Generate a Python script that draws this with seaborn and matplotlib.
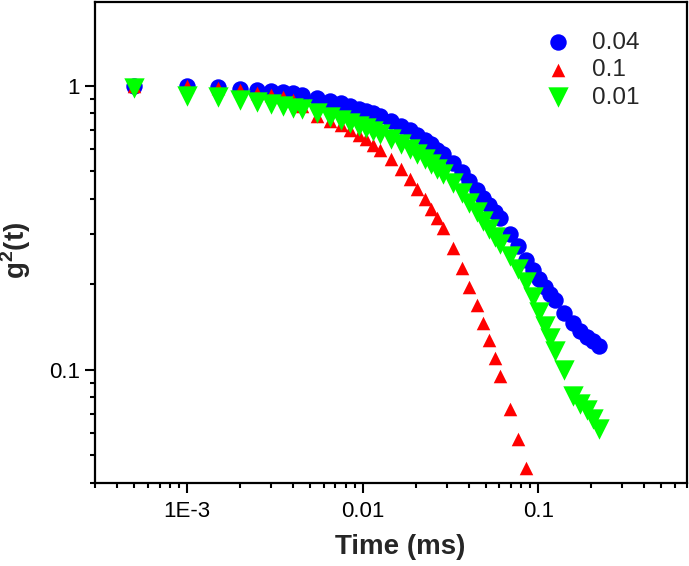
import matplotlib
matplotlib.use("Agg")
import matplotlib.pyplot as plt
import seaborn as sns
import pandas as pd
from matplotlib.ticker import FixedLocator, FixedFormatter, LogLocator, NullFormatter

# correlator lag times (ms), shared by all three curves
time_ms = [0.0005, 0.001, 0.0015, 0.002, 0.0025, 0.003, 0.0035, 0.004, 0.0045,
           0.0055, 0.0065, 0.0075, 0.0085, 0.0095, 0.0105, 0.0115, 0.0125,
           0.0145, 0.0165, 0.0185, 0.0205, 0.0225, 0.0245, 0.0265, 0.0285,
           0.0325, 0.0365, 0.0405, 0.0445, 0.0485, 0.0525, 0.0565, 0.0605,
           0.0685, 0.0765, 0.0845, 0.0925, 0.1005, 0.1085, 0.1165, 0.1245,
           0.1405, 0.1565, 0.1725, 0.1885, 0.2045, 0.2205]

g2_004 = [1.000, 1.000, 0.990, 0.974, 0.966, 0.958, 0.948, 0.940, 0.927,
          0.903, 0.880, 0.866, 0.848, 0.831, 0.814, 0.801, 0.785,
          0.751, 0.721, 0.696, 0.668, 0.644, 0.621, 0.596, 0.575,
          0.534, 0.497, 0.462, 0.431, 0.402, 0.380, 0.359, 0.342,
          0.301, 0.273, 0.243, 0.224, 0.209, 0.196, 0.185, 0.176,
          0.158, 0.146, 0.137, 0.131, 0.126, 0.121]

g2_01 = [1.000, 0.998, 0.978, 0.962, 0.945, 0.927, 0.910, 0.891, 0.848,
         0.785, 0.754, 0.727, 0.698, 0.673, 0.647, 0.618, 0.594,
         0.551, 0.508, 0.468, 0.432, 0.398, 0.367, 0.341, 0.315,
         0.268, 0.228, 0.196, 0.169, 0.146, 0.127, 0.110, 0.095,
         0.073, 0.057, 0.045]

g2_001 = [0.982, 0.920, 0.909, 0.894, 0.876, 0.859, 0.845, 0.835, 0.825,
          0.801, 0.779, 0.760, 0.742, 0.724, 0.707, 0.693, 0.676,
          0.649, 0.623, 0.599, 0.575, 0.552, 0.530, 0.509, 0.489,
          0.454, 0.419, 0.386, 0.359, 0.334, 0.313, 0.293, 0.277,
          0.251, 0.226, 0.204, 0.180, 0.160, 0.143, 0.129, 0.117,
          0.100, 0.081, 0.076, 0.072, 0.067, 0.062]

labels = ["0.04", "0.1", "0.01"]

sns.set_style("ticks")
plt.rcParams["font.family"] = ["Liberation Sans", "DejaVu Sans"]
plt.rcParams["mathtext.fontset"] = "custom"
plt.rcParams["mathtext.rm"] = "Liberation Sans"
plt.rcParams["mathtext.bf"] = "Liberation Sans:bold"

fig = plt.figure(figsize=(6.89, 5.66), dpi=100)
ax = fig.add_axes([95 / 689, 83 / 566, 592 / 689, 481 / 566])

df_blue = pd.DataFrame({"t": time_ms, "g2": g2_004})
df_red = pd.DataFrame({"t": time_ms[:len(g2_01)], "g2": g2_01})
df_green = pd.DataFrame({"t": time_ms, "g2": g2_001})

sns.scatterplot(data=df_blue, x="t", y="g2", ax=ax, marker="o", s=140,
                color="#0000ff", linewidth=0, label=labels[0], zorder=3)
sns.scatterplot(data=df_red, x="t", y="g2", ax=ax, marker="^", s=95,
                color="#ff0000", linewidth=0, label=labels[1], zorder=4)
sns.scatterplot(data=df_green, x="t", y="g2", ax=ax, marker="v", s=215,
                color="#00ff00", linewidth=0, label=labels[2], zorder=5)

ax.set_xscale("log")
ax.set_yscale("log")
ax.set_xlim(3.0e-4, 0.70)
ax.set_ylim(0.04, 1.97)

ax.xaxis.set_major_locator(FixedLocator([1e-3, 1e-2, 1e-1]))
ax.xaxis.set_major_formatter(FixedFormatter(["1E-3", "0.01", "0.1"]))
ax.xaxis.set_minor_locator(LogLocator(base=10, subs=range(2, 10)))
ax.xaxis.set_minor_formatter(NullFormatter())
ax.yaxis.set_major_locator(FixedLocator([0.1, 1]))
ax.yaxis.set_major_formatter(FixedFormatter(["0.1", "1"]))
ax.yaxis.set_minor_locator(LogLocator(base=10, subs=range(2, 10)))
ax.yaxis.set_minor_formatter(NullFormatter())

ax.tick_params(which="major", direction="out", length=7, width=1.5,
               labelsize=16, pad=4, color="black", labelcolor="black")
ax.tick_params(axis="x", which="major", pad=6)
ax.tick_params(which="minor", direction="out", length=3.6, width=1.5,
               color="black")
for sp in ax.spines.values():
    sp.set_linewidth(1.6)
    sp.set_color("black")

ax.set_xlabel("Time (ms)", fontsize=20, fontweight="bold")
ax.set_ylabel(r"g$^\mathbf{2}$(t)", fontsize=20, fontweight="bold")
ax.xaxis.set_label_coords(0.515, -0.106)
ax.yaxis.set_label_coords(-0.104, 0.484)

ax.legend(loc="upper left", bbox_to_anchor=(0.762, 0.938), frameon=False,
          fontsize=17.5, handlelength=1.0, handletextpad=0.9,
          labelspacing=0.22, borderpad=0, borderaxespad=0)

fig.savefig("out.png", dpi=100)
